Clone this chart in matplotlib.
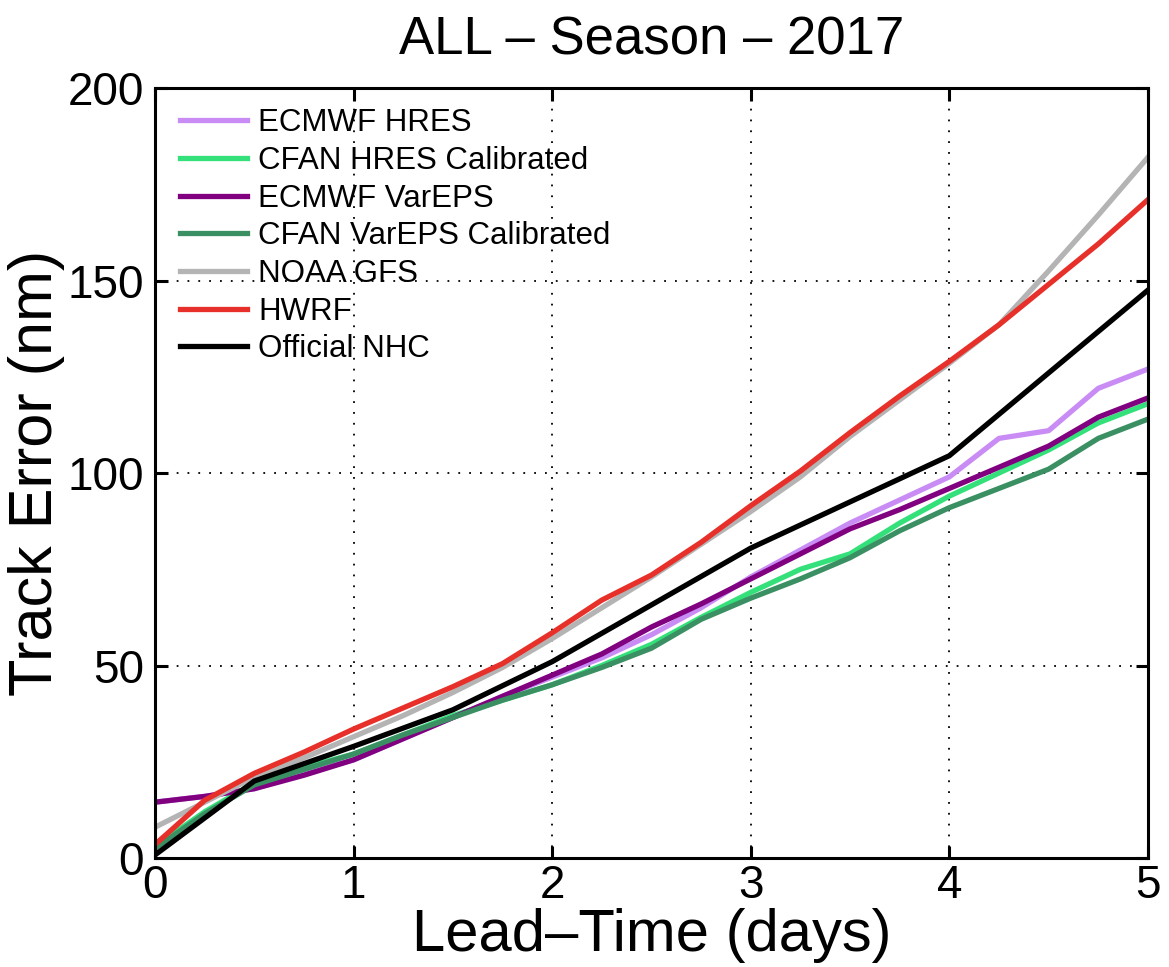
import numpy as np
import matplotlib
matplotlib.use('Agg')
import matplotlib.pyplot as plt

plt.rcParams['font.family'] = ['Liberation Sans', 'DejaVu Sans']

# Lead times (days)
lead = [0, 0.25, 0.5, 0.75, 1, 1.25, 1.5, 1.75, 2, 2.25, 2.5, 2.75,
        3, 3.25, 3.5, 3.75, 4, 4.25, 4.5, 4.75, 5]
lead_nhc = [0, 0.5, 1, 1.5, 2, 3, 4, 5]

# Track errors (nm)
ecmwf_hres = [14.5, 16, 18, 22, 25.5, 31, 36.5, 42, 47, 52, 58, 65,
              73, 80, 87, 93, 99, 109, 111, 122, 127]
cfan_hres = [3, 12, 19.5, 23.5, 27, 32, 37, 41, 45, 50, 55.5, 62.5,
             69, 75, 79, 87, 94, 100, 106, 113, 118]
ecmwf_vareps = [14.5, 16, 18, 21.5, 25.5, 31, 36.5, 42, 47.5, 53, 60, 66,
                72.5, 79, 85.5, 90.5, 96, 101.5, 107, 114.5, 119.5]
cfan_vareps = [2.5, 11.5, 19, 23, 27, 32, 36.5, 41, 45, 49.5, 54.5, 62,
               67.5, 72.5, 78, 85, 91, 96, 101, 109, 114]
noaa_gfs = [8, 14.5, 21, 26, 31.5, 37, 43, 49.5, 57, 65, 73, 81.5,
            90, 99, 109.5, 119, 128.5, 138.5, 152.5, 167, 182]
hwrf = [3.5, 15, 22, 27.5, 33.5, 39, 44.5, 50.5, 58.5, 67, 73.5, 82,
        91.5, 100.5, 110.5, 120, 129, 138.5, 149, 159.5, 171]
official_nhc = [0.8, 20, 29, 38.5, 51, 80.5, 104.5, 147.5]

fig = plt.figure(figsize=(11.69, 9.67), dpi=100)
ax = fig.add_axes([0.1326, 0.1127, 0.8494, 0.7963])

lw = 3.8
ax.plot(lead, ecmwf_hres, color='#c98cf5', lw=lw, label='ECMWF HRES')
ax.plot(lead, cfan_hres, color='#33e07a', lw=lw, label='CFAN HRES Calibrated')
ax.plot(lead, ecmwf_vareps, color='#800080', lw=lw, label='ECMWF VarEPS')
ax.plot(lead, cfan_vareps, color='#3a9062', lw=lw, label='CFAN VarEPS Calibrated')
ax.plot(lead, noaa_gfs, color='#b4b4b4', lw=lw, label='NOAA GFS')
ax.plot(lead, hwrf, color='#e8302a', lw=lw, label='HWRF')
ax.plot(lead_nhc, official_nhc, color='black', lw=lw, label='Official NHC')

ax.set_xlim(0, 5)
ax.set_ylim(0, 200)
ax.set_xticks([0, 1, 2, 3, 4, 5])
ax.set_yticks([0, 50, 100, 150, 200])
ax.grid(True, color='black', linestyle=(0, (1, 5)), linewidth=1.3)
ax.tick_params(direction='in', length=9, width=2.2, top=True, right=True)
ax.tick_params(axis='x', labelsize=33, pad=4)
ax.tick_params(axis='y', labelsize=33, pad=8)
for s in ax.spines.values():
    s.set_linewidth(2.2)

ax.set_title('ALL \u2013 Season \u2013 2017', fontsize=38, pad=24)
ax.set_xlabel('Lead\u2013Time (days)', fontsize=43, labelpad=0)
ax.set_ylabel('Track Error (nm)', fontsize=44, labelpad=2)

leg = ax.legend(loc='upper left', bbox_to_anchor=(0.0, 1.006), frameon=False,
                fontsize=22.5, handlelength=2.15, handletextpad=0.35,
                labelspacing=0.245, borderaxespad=0.4, borderpad=0.4)

plt.savefig('out.png', dpi=100)
